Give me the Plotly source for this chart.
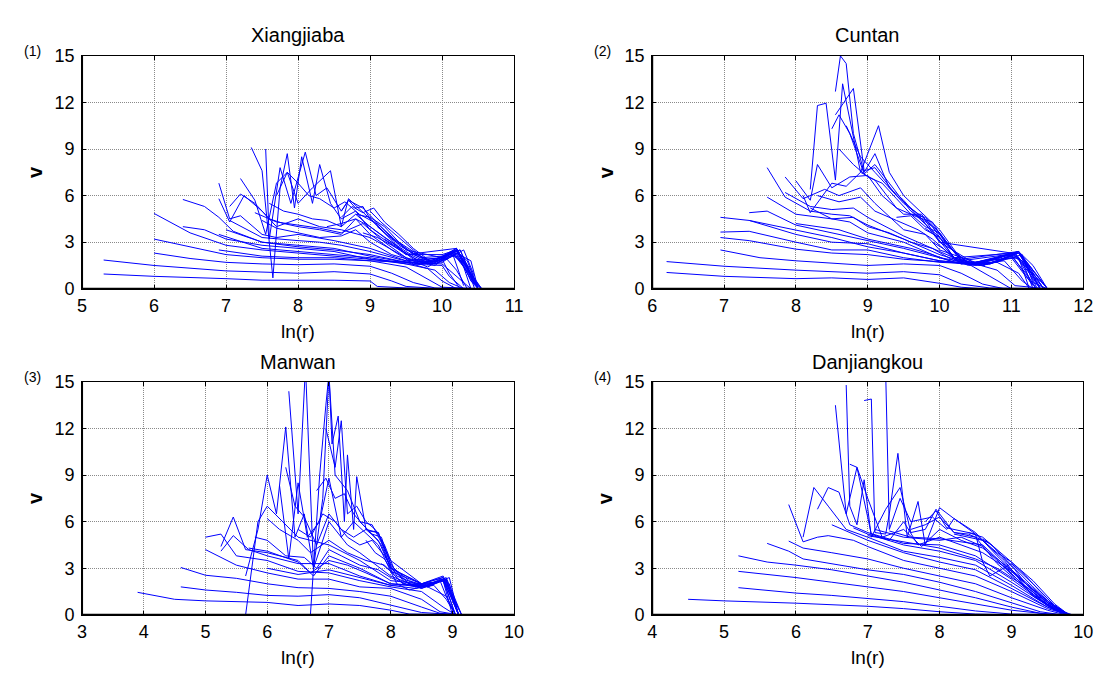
import plotly.graph_objects as go

# ---------------- data ----------------
TITLES = ["Xiangjiaba", "Cuntan", "Manwan", "Danjiangkou"]
TAGS = ["(1)", "(2)", "(3)", "(4)"]
X_RANGES = [[5, 11], [6, 12], [3, 10], [4, 10]]
X_TICKS = [[5, 6, 7, 8, 9, 10, 11], [6, 7, 8, 9, 10, 11, 12],
           [3, 4, 5, 6, 7, 8, 9, 10], [4, 5, 6, 7, 8, 9, 10]]
Y_TICKS = [0, 3, 6, 9, 12, 15]

# Panel 1: Xiangjiaba
XJB_X = [
    [5.3, 6.0, 7.0, 7.5, 8.0, 8.5, 9.0, 9.1, 9.5, 10.0, 10.55],
    [5.3, 6.0, 7.0, 8.0, 8.5, 9.0, 9.3, 9.5, 10.0, 10.55],
    [6.0, 6.5, 7.0, 7.5, 8.0, 8.5, 9.0, 9.3, 9.6, 9.9, 10.55],
    [6.0, 6.5, 7.0, 7.5, 8.0, 8.5, 9.0, 9.5, 9.8, 10.0, 10.55],
    [6.0, 6.5, 7.0, 7.5, 8.0, 8.5, 9.0, 9.5, 9.9, 10.1, 10.3],
    [6.4, 6.7, 7.0, 7.5, 8.0, 8.5, 9.0, 9.5, 10.0, 10.2, 10.4],
    [6.9, 7.5, 8.0, 8.5, 9.0, 9.5, 9.8, 10.0, 10.2],
    [6.9, 7.5, 8.0, 8.5, 9.0, 9.5, 10.0, 10.1, 10.3],
    [6.4, 6.7, 6.9, 7.1, 7.5, 8.0, 8.5, 9.0, 9.5, 10.0, 10.2, 10.35, 10.5],
    [6.9, 7.05, 7.2, 7.5, 7.7, 8.0, 8.5, 9.0, 9.5, 10.0, 10.25, 10.4, 10.55],
    [6.9, 7.05, 7.25, 7.5, 7.7, 8.0, 8.3, 8.6, 9.0, 9.5, 9.8, 10.2, 10.4, 10.5],
    [7.05, 7.2, 7.4, 7.6, 7.8, 8.0, 8.3, 8.6, 8.8, 9.0, 9.3, 9.6, 9.9, 10.15, 10.4, 10.5],
    [7.5, 7.7, 8.0, 8.3, 8.6, 8.8, 9.0, 9.3, 9.6, 9.9, 10.2, 10.42, 10.55],
    [7.2, 7.4, 7.55, 7.7, 7.85, 8.0, 8.2, 8.45, 8.6, 8.7, 9.0, 9.5, 10.2, 10.45, 10.55],
    [7.35, 7.5, 7.65, 7.75, 7.85, 7.95, 8.05, 8.2, 8.3, 8.45, 8.6, 8.8, 9.0, 9.5, 10.0, 10.2, 10.45],
    [7.55, 7.6, 7.75, 7.9, 8.1, 8.25, 8.4, 8.6, 8.7, 8.9, 9.15, 9.5, 10.0, 10.2, 10.5],
    [8.6, 8.7, 8.8, 8.9, 9.0, 9.15, 9.4, 9.7, 10.0, 10.2, 10.5],
    [7.0, 7.5, 8.0, 8.5, 9.0, 9.4, 9.7, 10.0, 10.1, 10.25],
    [7.05, 7.5, 8.0, 8.3, 8.6, 9.0, 9.4, 9.7, 10.0, 10.15, 10.3],
    [7.4, 7.7, 8.0, 8.3, 8.6, 8.9, 9.2, 9.5, 9.8, 10.1, 10.35, 10.45],
    [7.6, 7.8, 8.0, 8.2, 8.4, 8.6, 8.8, 9.0, 9.3, 9.6, 9.9, 10.2, 10.45, 10.55],
    [7.7, 7.85, 8.0, 8.15, 8.3, 8.5, 8.65, 8.85, 9.05, 9.3, 9.6, 9.9, 10.2, 10.5],
    [8.6, 8.75, 8.9, 9.05, 9.2, 9.4, 9.6, 9.8, 10.0, 10.2, 10.4, 10.5],
    [8.4, 8.6, 8.8, 9.0, 9.2, 9.4, 9.6, 9.8, 10.0, 10.25, 10.45],
    [8.8, 9.0, 9.2, 9.4, 9.6, 9.8, 10.0, 10.2, 10.35, 10.5],
    [9.0, 9.15, 9.3, 9.5, 9.7, 9.9, 10.1, 10.3, 10.45],
    [9.1, 9.25, 9.4, 9.6, 9.8, 10.0, 10.2, 10.4, 10.5],
    [9.2, 9.4, 9.6, 9.8, 10.0, 10.15, 10.3, 10.4],
    [8.9, 9.1, 9.3, 9.5, 9.7, 9.9, 10.05, 10.2, 10.35],
]
XJB_Y = [
    [0.95, 0.8, 0.65, 0.55, 0.55, 0.55, 0.5, 0.15, 0.05, 0.0, 0.0],
    [1.85, 1.5, 1.15, 1.0, 1.1, 0.95, 0.5, 0.15, 0.0, 0.0],
    [2.3, 1.95, 1.7, 1.6, 1.55, 1.6, 1.45, 1.0, 0.4, 0.05, 0.0],
    [3.2, 2.7, 2.2, 2.0, 1.9, 1.9, 1.8, 1.4, 0.6, 0.1, 0.0],
    [4.85, 3.6, 2.8, 2.5, 2.3, 2.1, 1.9, 1.6, 1.2, 0.4, 0.0],
    [4.0, 3.8, 3.2, 2.8, 2.6, 2.4, 1.9, 1.7, 1.6, 0.8, 0.0],
    [2.5, 2.1, 2.0, 2.0, 1.8, 1.7, 1.3, 0.5, 0.0],
    [3.5, 2.6, 2.4, 2.2, 2.0, 1.6, 1.5, 0.8, 0.0],
    [5.75, 5.3, 4.6, 3.7, 3.0, 2.8, 2.6, 2.1, 1.7, 1.8, 2.2, 1.0, 0.0],
    [6.8, 4.5, 4.7, 3.5, 3.3, 3.5, 3.1, 2.6, 1.8, 2.0, 2.5, 1.0, 0.0],
    [5.8, 4.3, 6.0, 5.0, 4.0, 4.5, 4.0, 3.8, 3.3, 2.0, 1.4, 2.5, 0.5, 0.0],
    [5.3, 6.1, 5.5, 4.5, 4.2, 4.0, 3.8, 3.5, 4.5, 3.5, 2.5, 1.6, 1.8, 2.4, 0.8, 0.0],
    [4.4, 3.9, 3.6, 3.3, 3.4, 3.8, 3.0, 2.2, 1.8, 1.6, 2.3, 0.4, 0.0],
    [7.1, 5.7, 3.5, 6.8, 7.5, 5.5, 6.5, 7.6, 4.0, 5.8, 4.5, 2.2, 2.6, 0.5, 0.0],
    [9.1, 7.6, 0.7, 6.5, 8.7, 5.2, 8.5, 5.5, 8.0, 5.5, 4.5, 5.0, 3.8, 2.2, 2.2, 2.5, 0.3],
    [9.0, 3.2, 7.8, 5.5, 8.8, 6.0, 6.5, 5.0, 5.7, 5.2, 4.0, 2.5, 2.0, 2.6, 0.2],
    [5.0, 5.7, 5.2, 5.3, 4.5, 4.0, 2.8, 2.0, 2.1, 2.6, 0.0],
    [3.8, 3.0, 2.7, 2.5, 2.2, 1.8, 1.6, 1.9, 1.0, 0.0],
    [4.4, 3.3, 3.1, 3.0, 2.8, 2.4, 1.9, 1.6, 1.9, 2.2, 0.2],
    [4.9, 4.3, 4.1, 3.9, 3.6, 4.2, 3.0, 2.0, 1.6, 2.3, 1.5, 0.0],
    [5.5, 5.0, 4.8, 4.5, 4.4, 4.0, 4.8, 4.0, 3.0, 1.9, 1.7, 2.4, 0.6, 0.0],
    [6.0, 7.5, 6.8, 6.0, 5.8, 5.2, 5.6, 4.8, 4.3, 3.2, 2.3, 1.7, 2.5, 0.0],
    [4.6, 5.3, 4.9, 5.2, 4.3, 3.5, 2.6, 1.9, 2.0, 2.5, 1.2, 0.0],
    [4.0, 4.2, 4.5, 4.0, 3.3, 2.7, 2.1, 1.7, 2.1, 2.5, 0.3],
    [4.8, 4.6, 4.0, 3.0, 2.2, 1.8, 2.0, 2.4, 1.8, 0.0],
    [5.0, 4.3, 3.7, 2.9, 2.1, 1.6, 2.0, 2.5, 0.8],
    [4.0, 3.4, 3.0, 2.4, 1.8, 1.7, 2.3, 1.8, 0.0],
    [3.2, 2.6, 2.0, 1.6, 1.9, 2.3, 1.4, 0.0],
    [3.6, 3.3, 2.8, 2.3, 1.7, 1.5, 2.0, 1.2, 0.0],
]

# Panel 2: Cuntan
CT_X = [
    [6.2, 7.0, 8.0, 8.5, 9.0, 9.5, 10.0, 10.3, 10.6, 11.5],
    [6.2, 7.0, 8.0, 8.5, 9.0, 9.5, 10.0, 10.3, 10.7, 11.5],
    [6.95, 7.5, 8.0, 8.5, 9.0, 9.5, 10.0, 10.3, 10.6, 10.9, 11.5],
    [6.95, 7.35, 8.0, 8.5, 9.0, 9.5, 10.0, 10.4, 10.7, 11.0, 11.5],
    [6.95, 7.35, 8.0, 8.5, 9.0, 9.5, 10.0, 10.5, 10.8, 11.05, 11.5],
    [6.95, 7.35, 8.0, 8.5, 9.0, 9.5, 10.0, 10.5, 10.9, 11.15, 11.3],
    [7.35, 7.6, 8.0, 8.5, 9.0, 9.5, 10.0, 10.3, 11.0, 11.2, 11.35],
    [7.6, 8.0, 8.5, 8.75, 9.0, 9.5, 10.0, 10.5, 11.05, 11.3],
    [7.6, 7.85, 8.2, 8.5, 8.75, 9.0, 9.5, 10.0, 10.5, 11.1, 11.35],
    [7.85, 8.2, 8.5, 8.8, 9.0, 9.5, 10.0, 10.4, 11.0, 11.3],
    [7.85, 8.1, 8.4, 8.6, 8.9, 9.1, 9.5, 9.8, 10.0, 10.5, 11.1, 11.4],
    [8.1, 8.2, 8.5, 8.7, 8.9, 9.1, 9.4, 9.7, 10.0, 10.4, 11.1, 11.4],
    [8.0, 8.2, 8.3, 8.5, 8.75, 9.0, 9.2, 9.5, 9.75, 10.0, 10.5, 11.1, 11.45],
    [8.2, 8.3, 8.42, 8.55, 8.65, 8.9, 9.15, 9.3, 9.5, 9.75, 10.0, 10.3, 11.1, 11.5],
    [8.5, 8.6, 8.75, 8.95, 9.1, 9.3, 9.6, 9.9, 10.2, 11.05, 11.45],
    [8.55, 8.62, 8.7, 8.8, 8.95, 9.1, 9.3, 9.5, 9.8, 10.0, 10.3, 11.1, 11.5],
    [8.55, 8.8, 8.95, 9.1, 9.4, 9.7, 10.0, 11.0, 11.5],
    [8.0, 8.3, 8.6, 9.0, 9.3, 9.6, 9.9, 10.2, 10.6, 11.0, 11.2, 11.35],
    [8.2, 8.5, 8.8, 9.0, 9.3, 9.6, 9.9, 10.2, 10.6, 11.05, 11.25, 11.4],
    [8.3, 8.6, 8.9, 9.1, 9.4, 9.7, 9.9, 10.2, 10.6, 11.1, 11.3, 11.45],
    [8.6, 8.8, 9.0, 9.2, 9.4, 9.6, 9.8, 10.0, 10.3, 10.7, 11.1, 11.3, 11.5],
    [8.7, 8.9, 9.1, 9.3, 9.5, 9.7, 9.9, 10.1, 10.4, 10.8, 11.1, 11.3, 11.5],
    [7.35, 8.0, 8.5, 9.0, 9.5, 10.0, 10.4, 10.8, 11.1, 11.25],
    [9.4, 9.6, 9.8, 10.0, 10.2, 10.5, 10.8, 11.0, 11.2, 11.4],
    [9.6, 9.8, 10.0, 10.2, 10.4, 10.7, 11.0, 11.15, 11.3],
    [9.8, 9.95, 10.1, 10.3, 10.6, 10.9, 11.1, 11.25],
    [9.9, 10.05, 10.2, 10.4, 10.7, 11.0, 11.15, 11.3, 11.5],
]
CT_Y = [
    [1.05, 0.8, 0.65, 0.7, 0.6, 0.7, 0.35, 0.1, 0.0, 0.0],
    [1.75, 1.45, 1.2, 1.1, 1.0, 1.1, 0.9, 0.3, 0.05, 0.0],
    [2.5, 2.0, 1.8, 1.65, 1.5, 1.6, 1.5, 1.0, 0.3, 0.0, 0.0],
    [3.3, 3.1, 2.55, 2.3, 2.2, 1.9, 1.75, 1.6, 0.8, 0.0, 0.0],
    [3.65, 3.7, 3.0, 2.5, 2.5, 2.0, 1.7, 1.6, 1.2, 0.2, 0.0],
    [4.6, 4.4, 3.5, 3.0, 2.9, 2.3, 1.8, 1.6, 1.8, 0.5, 0.0],
    [4.9, 5.0, 4.1, 3.6, 3.1, 2.6, 2.0, 1.6, 2.0, 0.8, 0.0],
    [5.9, 4.8, 4.5, 4.3, 3.6, 3.0, 2.0, 1.6, 2.3, 0.3],
    [7.8, 5.9, 5.0, 4.8, 4.7, 4.1, 3.2, 2.2, 1.5, 2.4, 0.1],
    [6.2, 5.3, 5.1, 5.2, 4.6, 3.4, 2.4, 1.6, 2.2, 0.2],
    [7.2, 5.8, 6.4, 6.0, 6.5, 5.5, 3.8, 3.5, 2.5, 1.7, 2.4, 0.1],
    [6.0, 4.9, 6.8, 6.6, 7.5, 7.0, 5.2, 4.6, 3.3, 1.6, 2.3, 0.0],
    [6.95, 5.7, 8.0, 6.5, 7.2, 7.3, 6.0, 4.8, 4.8, 3.0, 1.6, 2.4, 0.0],
    [6.4, 11.8, 11.95, 7.0, 13.2, 7.5, 10.5, 7.5, 6.0, 4.9, 3.8, 1.9, 2.4, 0.0],
    [10.3, 11.2, 10.0, 7.4, 8.0, 6.8, 5.0, 4.0, 2.0, 2.3, 0.0],
    [12.7, 15.0, 14.5, 10.0, 7.5, 8.7, 6.5, 5.5, 4.5, 3.5, 1.8, 2.3, 0.0],
    [11.2, 12.9, 7.6, 7.8, 6.0, 4.8, 3.0, 2.3, 0.05],
    [4.2, 4.0, 3.8, 3.2, 2.9, 2.6, 2.2, 1.7, 1.5, 2.1, 1.0, 0.0],
    [5.2, 4.5, 4.6, 4.0, 3.6, 3.0, 2.6, 1.8, 1.5, 2.2, 1.0, 0.0],
    [6.0, 5.6, 5.9, 5.0, 4.4, 3.8, 3.2, 2.0, 1.5, 2.3, 1.0, 0.0],
    [9.0, 8.0, 7.2, 6.8, 5.8, 4.8, 4.6, 3.6, 1.8, 1.6, 2.4, 1.2, 0.0],
    [10.5, 8.5, 7.5, 6.5, 5.7, 4.6, 4.3, 2.8, 1.6, 1.7, 2.4, 1.5, 0.0],
    [4.4, 3.8, 3.3, 2.7, 2.3, 1.8, 1.6, 1.7, 1.0, 0.0],
    [4.6, 4.7, 3.8, 3.3, 2.0, 1.6, 1.9, 2.3, 1.6, 0.0],
    [4.8, 4.0, 3.6, 2.4, 1.7, 1.6, 2.1, 1.8, 0.0],
    [3.9, 3.4, 2.5, 1.6, 1.5, 1.9, 2.0, 0.0],
    [3.0, 2.6, 1.9, 1.5, 1.6, 2.0, 2.2, 0.4, 0.0],
]

# Panel 3: Manwan
MW_X = [
    [3.9, 4.5, 5.0, 5.5, 6.0, 6.5, 7.0, 7.5, 8.0, 8.3, 9.1],
    [4.6, 5.0, 5.5, 6.0, 6.5, 7.0, 7.5, 8.0, 8.5, 9.1],
    [4.6, 5.0, 5.5, 6.0, 6.5, 7.0, 7.5, 8.0, 8.5, 8.8, 9.1],
    [5.0, 5.5, 6.0, 6.5, 7.0, 7.5, 8.0, 8.5, 8.8, 9.1],
    [5.0, 5.25, 5.5, 6.0, 6.5, 7.0, 7.5, 8.0, 8.5, 8.85, 9.05],
    [5.25, 5.45, 5.7, 6.0, 6.5, 7.0, 7.5, 8.0, 8.5, 8.9, 9.05],
    [5.25, 5.45, 5.65, 6.0, 6.5, 6.75, 7.0, 7.5, 8.0, 8.5, 8.85, 9.05],
    [5.7, 6.0, 6.5, 6.7, 7.0, 7.3, 7.6, 8.0, 8.5, 8.85, 9.05],
    [5.65, 5.85, 6.0, 6.2, 6.5, 7.0, 7.5, 8.0, 8.5, 8.85, 9.1],
    [6.0, 6.2, 6.5, 6.7, 7.0, 7.3, 7.6, 7.9, 8.2, 8.6, 8.9, 9.1],
    [5.65, 5.85, 6.0, 6.15, 6.3, 6.45, 6.6, 6.75, 7.0, 7.3, 7.5, 8.0, 8.5, 8.85, 9.1],
    [6.2, 6.35, 6.5, 6.65, 6.85, 7.0, 7.2, 7.4, 7.8, 8.0, 8.5, 8.9, 9.1],
    [6.3, 6.45, 6.6, 6.8, 7.0, 7.2, 7.4, 7.6, 7.8, 8.0, 8.5, 8.9, 9.1],
    [6.7, 6.85, 6.95, 7.0, 7.05, 7.15, 7.25, 7.3, 7.4, 7.45, 7.6, 7.8, 8.0, 8.5, 8.85, 9.15],
    [6.35, 6.5, 6.62, 6.75, 6.9, 7.0, 7.1, 7.3, 7.5, 7.7, 8.0, 8.5, 8.85, 9.15],
    [5.8, 6.0, 6.3, 6.6, 6.8, 7.0, 7.2, 7.5, 7.8, 8.0, 8.3, 8.6, 8.9, 9.1],
    [6.5, 6.7, 6.9, 7.1, 7.3, 7.5, 7.7, 7.9, 8.1, 8.4, 8.7, 8.95, 9.1],
    [6.8, 6.95, 7.1, 7.25, 7.4, 7.55, 7.7, 7.85, 8.0, 8.3, 8.6, 8.9, 9.1],
    [6.95, 7.1, 7.2, 7.3, 7.45, 7.6, 7.75, 7.9, 8.05, 8.3, 8.6, 8.9, 9.15],
    [6.0, 6.5, 7.0, 7.5, 8.0, 8.4, 8.7, 8.9, 9.05],
    [7.5, 7.65, 7.8, 8.0, 8.2, 8.4, 8.6, 8.8, 8.95, 9.1],
    [7.7, 7.85, 8.0, 8.15, 8.3, 8.5, 8.7, 8.85, 9.0],
    [7.85, 8.0, 8.1, 8.3, 8.5, 8.7, 8.85, 9.0, 9.1],
    [7.6, 7.75, 7.9, 8.05, 8.2, 8.4, 8.6, 8.8, 8.9, 9.05],
]
MW_Y = [
    [1.45, 1.0, 0.9, 0.85, 0.8, 0.6, 0.7, 0.6, 0.3, 0.05, 0.0],
    [1.8, 1.6, 1.45, 1.25, 1.2, 1.3, 1.1, 0.6, 0.15, 0.0],
    [3.05, 2.55, 2.35, 2.0, 1.75, 1.7, 1.5, 1.2, 0.5, 0.1, 0.0],
    [4.2, 3.2, 2.7, 2.3, 2.3, 1.8, 1.7, 1.0, 0.2, 0.0],
    [5.0, 5.2, 3.8, 3.5, 2.8, 2.7, 2.2, 1.8, 1.5, 0.5, 0.0],
    [4.1, 5.1, 4.2, 3.8, 3.3, 3.3, 2.5, 1.9, 2.0, 1.2, 0.0],
    [4.4, 6.3, 4.2, 4.0, 3.5, 2.5, 3.8, 3.0, 2.0, 1.8, 2.3, 0.0],
    [4.3, 4.1, 3.4, 2.7, 3.5, 3.2, 2.7, 2.0, 1.9, 2.2, 0.0],
    [0.0, 6.0, 7.0, 6.2, 5.0, 4.5, 3.5, 2.2, 2.0, 2.4, 0.0],
    [6.2, 5.5, 4.8, 4.0, 4.8, 4.0, 3.5, 3.2, 2.0, 1.8, 2.3, 0.0],
    [2.5, 5.5, 9.0, 6.5, 12.1, 5.0, 6.5, 3.0, 6.0, 4.5, 4.0, 2.5, 1.7, 2.3, 0.0],
    [8.3, 3.6, 8.5, 5.0, 6.0, 8.8, 5.0, 6.0, 4.5, 2.8, 2.0, 2.2, 0.0],
    [9.5, 7.0, 6.3, 4.5, 6.5, 5.5, 5.0, 5.5, 4.8, 3.0, 2.0, 2.2, 0.0],
    [0.0, 9.0, 13.5, 15.5, 11.0, 12.8, 6.0, 10.3, 5.5, 8.9, 5.5, 5.3, 3.0, 2.0, 2.4, 0.0],
    [14.4, 6.5, 16.0, 3.0, 7.5, 15.5, 9.0, 8.0, 6.0, 5.8, 3.5, 2.0, 2.5, 0.0],
    [5.0, 4.8, 3.8, 3.7, 3.0, 4.2, 3.8, 3.2, 2.9, 2.4, 1.9, 1.9, 2.3, 0.0],
    [5.5, 5.0, 6.5, 6.0, 5.0, 4.5, 4.8, 3.8, 2.5, 2.0, 2.0, 2.4, 0.0],
    [8.0, 8.8, 7.5, 7.8, 6.5, 5.8, 5.2, 5.0, 3.2, 2.0, 1.9, 2.3, 0.0],
    [12.0, 9.5, 12.5, 6.5, 7.0, 6.0, 5.5, 4.5, 3.0, 2.2, 1.8, 2.4, 0.0],
    [3.0, 2.6, 2.9, 2.4, 1.9, 1.7, 1.9, 1.0, 0.0],
    [6.0, 5.4, 5.3, 3.3, 2.2, 1.8, 1.9, 2.3, 2.0, 0.0],
    [5.2, 4.5, 3.0, 2.5, 2.0, 1.7, 2.0, 2.2, 0.0],
    [3.3, 2.8, 2.0, 1.6, 1.8, 2.0, 2.3, 1.0, 0.0],
    [4.8, 4.0, 3.6, 2.6, 2.0, 1.8, 1.9, 2.2, 1.2, 0.0],
]

# Panel 4: Danjiangkou
DJK_X = [
    [4.5, 5.0, 6.0, 7.0, 7.5, 8.0, 8.5, 9.0, 9.8],
    [5.2, 6.0, 6.5, 7.0, 7.5, 8.0, 8.5, 9.0, 9.5, 9.8],
    [5.2, 6.0, 6.5, 7.0, 7.5, 8.0, 8.5, 9.0, 9.5, 9.8],
    [5.2, 5.6, 6.0, 6.5, 7.0, 7.5, 8.0, 8.5, 9.0, 9.4, 9.7],
    [5.6, 5.9, 6.1, 6.5, 7.0, 7.5, 8.0, 8.5, 9.0, 9.4, 9.7],
    [5.9, 6.1, 6.5, 7.0, 7.5, 8.0, 8.5, 9.0, 9.5, 9.75],
    [5.9, 6.1, 6.3, 6.45, 6.8, 7.0, 7.5, 8.0, 8.5, 9.0, 9.5, 9.8],
    [6.5, 7.0, 7.5, 8.0, 8.5, 9.0, 9.5, 9.8],
    [6.1, 6.25, 6.45, 6.7, 7.0, 7.5, 8.0, 8.5, 9.0, 9.5, 9.8],
    [6.8, 7.0, 7.5, 8.0, 8.5, 9.0, 9.5, 9.8],
    [6.3, 6.45, 6.6, 6.75, 7.0, 7.5, 8.0, 8.5, 9.0, 9.5, 9.8],
    [7.1, 7.5, 8.0, 8.3, 8.6, 9.0, 9.5, 9.8],
    [6.55, 6.7, 6.85, 7.05, 7.3, 7.5, 7.7, 8.0, 8.3, 8.6, 9.0, 9.5, 9.8],
    [6.75, 6.85, 7.0, 7.2, 7.5, 7.75, 8.0, 8.3, 8.6, 9.0, 9.5, 9.8],
    [6.7, 6.75, 6.85, 6.95, 7.05, 7.25, 7.45, 7.6, 7.8, 7.95, 8.2, 8.5, 8.8, 9.2, 9.6, 9.8],
    [6.95, 7.05, 7.1, 7.25, 7.3, 7.42, 7.55, 7.7, 7.8, 8.0, 8.2, 8.5, 8.8, 9.2, 9.6, 9.85],
    [7.25, 7.3, 7.45, 7.6, 7.9, 8.1, 8.2, 8.5, 8.9, 9.3, 9.7],
    [7.0, 7.5, 8.0, 8.5, 8.8, 9.2, 9.5, 9.8],
    [7.3, 7.6, 8.0, 8.3, 8.6, 8.9, 9.2, 9.5, 9.8],
    [7.6, 7.8, 8.0, 8.2, 8.4, 8.7, 9.0, 9.3, 9.6, 9.8],
    [7.8, 7.95, 8.1, 8.3, 8.5, 8.6, 8.7, 9.0, 9.3, 9.6, 9.8],
    [8.2, 8.4, 8.6, 8.8, 9.0, 9.3, 9.6, 9.8],
    [8.4, 8.6, 8.8, 9.0, 9.2, 9.4, 9.6, 9.8],
    [8.6, 8.75, 8.9, 9.05, 9.2, 9.4, 9.6, 9.75],
    [8.8, 8.95, 9.1, 9.3, 9.5, 9.7],
]
DJK_Y = [
    [1.0, 0.9, 0.75, 0.55, 0.4, 0.2, 0.05, 0.0, 0.0],
    [1.75, 1.4, 1.25, 1.05, 0.85, 0.55, 0.25, 0.05, 0.0, 0.0],
    [2.8, 2.4, 2.1, 1.8, 1.5, 1.1, 0.7, 0.3, 0.05, 0.0],
    [3.8, 3.4, 3.2, 2.9, 2.5, 2.1, 1.6, 1.1, 0.5, 0.1, 0.0],
    [4.6, 4.1, 3.6, 3.3, 2.9, 2.6, 2.1, 1.5, 0.8, 0.2, 0.0],
    [4.75, 4.3, 4.0, 3.6, 3.0, 2.5, 2.0, 1.1, 0.3, 0.0],
    [7.1, 4.7, 5.0, 5.1, 4.8, 4.4, 3.5, 3.0, 2.5, 1.5, 0.4, 0.0],
    [5.8, 4.8, 4.0, 3.4, 2.9, 1.7, 0.5, 0.0],
    [5.0, 8.2, 7.0, 5.5, 5.0, 4.1, 3.7, 3.2, 1.9, 0.5, 0.0],
    [5.6, 5.2, 4.5, 4.1, 3.5, 2.1, 0.6, 0.0],
    [6.8, 8.2, 7.9, 5.8, 5.3, 4.6, 4.5, 3.8, 2.3, 0.6, 0.0],
    [5.5, 5.0, 4.8, 5.0, 4.4, 2.6, 0.7, 0.0],
    [13.5, 6.5, 9.5, 5.2, 4.8, 6.0, 4.5, 5.0, 4.5, 4.0, 2.8, 0.8, 0.0],
    [9.7, 9.5, 7.5, 5.0, 5.5, 4.4, 5.5, 4.8, 4.3, 2.9, 0.9, 0.0],
    [14.8, 7.0, 5.8, 8.7, 5.0, 6.8, 8.2, 5.3, 5.5, 6.8, 5.3, 5.0, 3.3, 1.7, 0.3, 0.0],
    [13.8, 13.9, 5.3, 5.2, 6.5, 10.4, 5.0, 7.3, 4.5, 6.9, 6.2, 5.3, 3.8, 2.0, 0.4, 0.0],
    [15.5, 5.5, 7.5, 6.0, 6.3, 5.5, 6.2, 5.2, 3.5, 1.2, 0.1],
    [5.1, 4.7, 4.3, 3.6, 3.0, 1.8, 0.8, 0.0],
    [5.4, 5.0, 4.9, 4.7, 4.5, 3.2, 2.0, 0.9, 0.0],
    [5.5, 5.8, 6.3, 5.3, 5.2, 4.6, 3.2, 1.8, 0.5, 0.0],
    [6.0, 6.7, 5.6, 5.4, 5.2, 3.4, 2.5, 3.3, 2.0, 0.6, 0.0],
    [5.2, 5.0, 4.8, 4.0, 3.4, 2.2, 0.7, 0.0],
    [5.3, 5.0, 4.2, 3.4, 2.5, 1.5, 0.6, 0.0],
    [4.9, 4.4, 3.6, 2.9, 2.0, 1.0, 0.4, 0.0],
    [3.5, 2.9, 2.2, 1.3, 0.6, 0.1],
]

PANEL_X = [XJB_X, CT_X, MW_X, DJK_X]
PANEL_Y = [XJB_Y, CT_Y, MW_Y, DJK_Y]

# ---------------- layout geometry (pixels) ----------------
W, H = 1106, 677
# (left, right, top, bottom) in pixels for each axes box
BOXES = [(70, 508, 39, 279), (648, 1085, 39, 279),
         (70, 508, 375, 615), (648, 1085, 375, 615)]

fig = go.Figure()
FONT = "Liberation Sans, Arial, sans-serif"

annotations = []
shapes = []
for i in range(4):
    l, r, t, b = BOXES[i]
    xa = "x" if i == 0 else f"x{i+1}"
    ya = "y" if i == 0 else f"y{i+1}"
    for xs, ys in zip(PANEL_X[i], PANEL_Y[i]):
        fig.add_trace(go.Scatter(x=xs, y=ys, mode="lines", xaxis=xa, yaxis=ya,
                                 line=dict(color="#0000FF", width=1),
                                 showlegend=False, hoverinfo="skip"))
    axis_common = dict(showline=True, linecolor="black", linewidth=1, mirror="ticks",
                       ticks="inside", ticklen=4, tickcolor="black",
                       showgrid=True, gridcolor="#8a8a8a", griddash="1px,1px", gridwidth=1,
                       zeroline=False, tickfont=dict(family=FONT, size=18, color="black"))
    fig.layout[f"xaxis{'' if i == 0 else i+1}"] = dict(
        axis_common, domain=[l / W, r / W], range=X_RANGES[i], tickvals=X_TICKS[i],
        anchor=ya, ticklabelstandoff=1)
    fig.layout[f"yaxis{'' if i == 0 else i+1}"] = dict(
        axis_common, domain=[1 - b / H, 1 - t / H], range=[0, 15], tickvals=Y_TICKS,
        anchor=xa, ticklabelstandoff=3)
    # heavier left and bottom box edges
    shapes.append(dict(type="line", xref=f"{xa} domain", yref=f"{ya} domain",
                       x0=0, x1=0, y0=0, y1=1, line=dict(color="black", width=2)))
    shapes.append(dict(type="line", xref=f"{xa} domain", yref=f"{ya} domain",
                       x0=0, x1=1, y0=0, y1=0, line=dict(color="black", width=2)))
    cx = (l + r) / 2
    annotations.append(dict(text=TITLES[i], x=cx / W, y=1 - (t - 21) / H, xref="paper",
                            yref="paper", showarrow=False, xanchor="center", yanchor="middle",
                            font=dict(family=FONT, size=20, color="black")))
    annotations.append(dict(text="ln(r)", x=cx / W, y=1 - (b + 44) / H, xref="paper",
                            yref="paper", showarrow=False, xanchor="center", yanchor="middle",
                            font=dict(family=FONT, size=19, color="black")))
    annotations.append(dict(text="<b>v</b>", x=(l - 47) / W, y=1 - ((t + b) / 2) / H,
                            xref="paper", yref="paper", showarrow=False, textangle=-90,
                            xanchor="center", yanchor="middle",
                            font=dict(family=FONT, size=20, color="black")))
    annotations.append(dict(text=TAGS[i], x=(l - 50) / W, y=1 - (t - 5) / H, xref="paper",
                            yref="paper", showarrow=False, xanchor="center", yanchor="middle",
                            font=dict(family=FONT, size=14, color="black")))

fig.update_layout(width=W, height=H, margin=dict(l=0, r=0, t=0, b=0),
                  paper_bgcolor="white", plot_bgcolor="white",
                  annotations=annotations, shapes=shapes, showlegend=False)

fig.write_html("out.html")
